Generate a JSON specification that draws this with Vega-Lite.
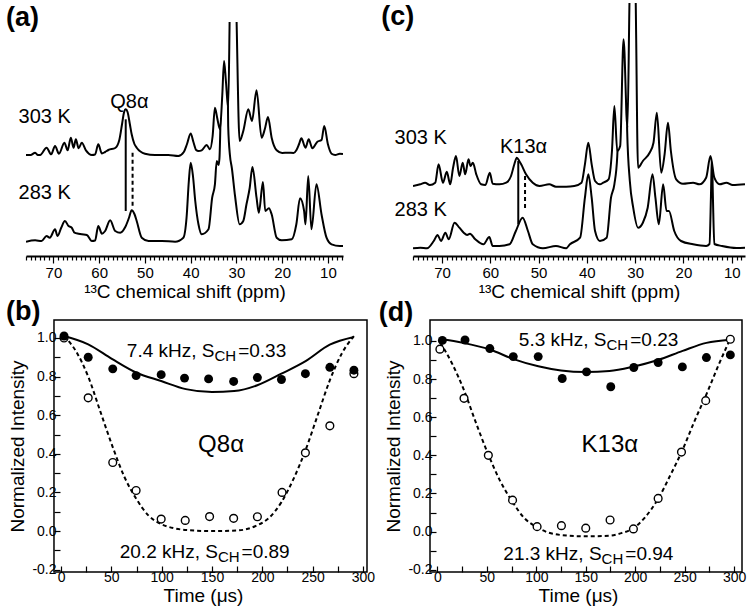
{
  "$schema": "https://vega.github.io/schema/vega-lite/v6.json",
  "background": "white",
  "padding": {"left": 5, "top": 2, "right": 0, "bottom": 0},
  "config": {
    "font": "Liberation Sans",
    "view": {"stroke": null},
    "axis": {"labelFont": "Liberation Sans", "titleFont": "Liberation Sans", "labelColor": "black", "titleColor": "black", "domainColor": "black", "tickColor": "black", "grid": false, "titleFontWeight": "normal", "labelFlush": false, "labelOverlap": false},
    "title": {"font": "Liberation Sans", "fontSize": 27, "fontWeight": "bold", "anchor": "start", "frame": "group", "offset": 0, "baseline": "alphabetic", "color": "black"}
  },
  "datasets": {
    "a303": [{"ppm":76.0,"v":101},{"ppm":75.0,"v":101},{"ppm":74.0,"v":103.3},{"ppm":73.4,"v":101},{"ppm":72.9,"v":101},{"ppm":71.5,"v":108.3},{"ppm":70.5,"v":101.7},{"ppm":69.65,"v":110},{"ppm":68.8,"v":102.3},{"ppm":67.6,"v":113.3},{"ppm":66.9,"v":105.7},{"ppm":66.2,"v":118.3},{"ppm":65.6,"v":108.3},{"ppm":65.1,"v":116.7},{"ppm":64.5,"v":107.7},{"ppm":63.8,"v":113.3},{"ppm":62.9,"v":105.7},{"ppm":61.6,"v":101},{"ppm":60.9,"v":101.5},{"ppm":60.2,"v":111.7},{"ppm":59.4,"v":102.5},{"ppm":58.7,"v":104},{"ppm":58.0,"v":106},{"ppm":56.5,"v":108},{"ppm":55.6,"v":116},{"ppm":55.0,"v":132},{"ppm":54.6,"v":143},{"ppm":54.2,"v":146.7},{"ppm":53.8,"v":144},{"ppm":53.3,"v":132},{"ppm":52.9,"v":121.7},{"ppm":52.3,"v":112},{"ppm":51.8,"v":108.3},{"ppm":50.0,"v":102.3},{"ppm":47.8,"v":101},{"ppm":44.9,"v":101},{"ppm":42.7,"v":100},{"ppm":41.5,"v":104},{"ppm":40.8,"v":112},{"ppm":40.0,"v":122.5},{"ppm":39.4,"v":114},{"ppm":38.8,"v":106},{"ppm":38.3,"v":105},{"ppm":37.6,"v":105.7},{"ppm":36.5,"v":111},{"ppm":35.8,"v":106.7},{"ppm":35.2,"v":120},{"ppm":34.7,"v":148.3},{"ppm":34.2,"v":138},{"ppm":33.6,"v":126.7},{"ppm":33.1,"v":160},{"ppm":32.7,"v":195},{"ppm":32.3,"v":175},{"ppm":31.8,"v":148.3},{"ppm":31.4,"v":260},{"ppm":30.8,"v":330},{"ppm":30.1,"v":260},{"ppm":29.3,"v":115},{"ppm":28.5,"v":125},{"ppm":27.4,"v":146.7},{"ppm":26.6,"v":135},{"ppm":25.6,"v":165.7},{"ppm":24.5,"v":118.3},{"ppm":23.8,"v":126.7},{"ppm":23.1,"v":139},{"ppm":22.3,"v":118.3},{"ppm":21.2,"v":105.7},{"ppm":20.0,"v":103},{"ppm":18.7,"v":103.3},{"ppm":17.5,"v":103},{"ppm":16.9,"v":105.7},{"ppm":16.3,"v":112},{"ppm":15.8,"v":117.7},{"ppm":14.9,"v":108.3},{"ppm":14.2,"v":116.7},{"ppm":13.4,"v":107.7},{"ppm":12.3,"v":114.3},{"ppm":11.4,"v":116},{"ppm":10.8,"v":130},{"ppm":10.0,"v":111.7},{"ppm":9.2,"v":102.3},{"ppm":8.4,"v":101},{"ppm":7.4,"v":102.3},{"ppm":6.7,"v":102}],
    "a283": [{"ppm":76.0,"v":14.3},{"ppm":74.0,"v":15.7},{"ppm":72.6,"v":15},{"ppm":71.5,"v":20},{"ppm":70.8,"v":18.3},{"ppm":69.65,"v":26.7},{"ppm":69.1,"v":20},{"ppm":68.3,"v":28.3},{"ppm":67.5,"v":35},{"ppm":66.7,"v":30},{"ppm":66.0,"v":28.3},{"ppm":65.4,"v":23.3},{"ppm":64.5,"v":22.3},{"ppm":63.8,"v":21.7},{"ppm":62.7,"v":21},{"ppm":61.6,"v":15},{"ppm":60.9,"v":15.5},{"ppm":60.2,"v":30},{"ppm":59.4,"v":22.3},{"ppm":58.7,"v":25},{"ppm":57.6,"v":35.7},{"ppm":56.5,"v":25},{"ppm":55.4,"v":23.3},{"ppm":54.3,"v":29},{"ppm":53.5,"v":38},{"ppm":52.9,"v":45.7},{"ppm":52.3,"v":42},{"ppm":51.8,"v":35},{"ppm":50.7,"v":18.3},{"ppm":49.2,"v":15},{"ppm":46.3,"v":15},{"ppm":43.4,"v":14.3},{"ppm":41.6,"v":18.3},{"ppm":40.9,"v":38.3},{"ppm":40.4,"v":75},{"ppm":40.0,"v":93.3},{"ppm":39.5,"v":80},{"ppm":39.0,"v":55},{"ppm":38.3,"v":31.7},{"ppm":37.6,"v":21.7},{"ppm":36.1,"v":26.7},{"ppm":35.3,"v":58.3},{"ppm":34.7,"v":71.7},{"ppm":34.3,"v":95},{"ppm":33.9,"v":91},{"ppm":33.7,"v":98.3},{"ppm":33.4,"v":150},{"ppm":32.7,"v":220},{"ppm":32.1,"v":200},{"ppm":31.85,"v":150},{"ppm":31.8,"v":130},{"ppm":31.4,"v":100},{"ppm":31.0,"v":88},{"ppm":30.3,"v":60},{"ppm":29.3,"v":31.7},{"ppm":28.5,"v":35},{"ppm":27.8,"v":51.7},{"ppm":27.1,"v":68},{"ppm":26.5,"v":89},{"ppm":25.6,"v":58.3},{"ppm":25.1,"v":43.3},{"ppm":24.2,"v":74},{"ppm":23.7,"v":45},{"ppm":22.9,"v":47.7},{"ppm":22.3,"v":41.7},{"ppm":21.2,"v":18.3},{"ppm":20.1,"v":15.7},{"ppm":17.9,"v":16.7},{"ppm":16.9,"v":31.7},{"ppm":16.1,"v":57.7},{"ppm":15.2,"v":45},{"ppm":14.9,"v":31.7},{"ppm":14.3,"v":80},{"ppm":13.6,"v":26.7},{"ppm":12.5,"v":71.7},{"ppm":11.4,"v":41.7},{"ppm":10.3,"v":18.3},{"ppm":9.2,"v":11.7},{"ppm":7.4,"v":10},{"ppm":6.7,"v":10}],
    "c303": [{"ppm":76.0,"v":70},{"ppm":74.5,"v":71.7},{"ppm":73.5,"v":73.3},{"ppm":72.5,"v":71},{"ppm":71.4,"v":73.3},{"ppm":70.7,"v":91.7},{"ppm":69.8,"v":73.3},{"ppm":69.0,"v":84.3},{"ppm":68.3,"v":71.7},{"ppm":67.7,"v":88.3},{"ppm":67.1,"v":100},{"ppm":66.4,"v":80},{"ppm":65.7,"v":93.3},{"ppm":65.2,"v":81.7},{"ppm":64.5,"v":96.7},{"ppm":64.1,"v":90},{"ppm":63.6,"v":93.3},{"ppm":62.9,"v":81.7},{"ppm":61.9,"v":71.7},{"ppm":61.0,"v":71},{"ppm":60.1,"v":83.3},{"ppm":59.5,"v":72.3},{"ppm":58.1,"v":71.7},{"ppm":56.7,"v":73.3},{"ppm":55.7,"v":80},{"ppm":55.0,"v":92},{"ppm":54.5,"v":98.3},{"ppm":54.0,"v":95},{"ppm":53.6,"v":91.7},{"ppm":52.6,"v":81.7},{"ppm":51.2,"v":73.3},{"ppm":49.8,"v":70},{"ppm":47.8,"v":71.7},{"ppm":46.4,"v":69.3},{"ppm":44.3,"v":69.3},{"ppm":42.6,"v":70},{"ppm":41.1,"v":73.3},{"ppm":40.4,"v":91.7},{"ppm":39.7,"v":113.3},{"ppm":39.0,"v":91.7},{"ppm":38.3,"v":75},{"ppm":37.3,"v":71.7},{"ppm":36.6,"v":73.3},{"ppm":35.5,"v":76.7},{"ppm":34.8,"v":105},{"ppm":34.3,"v":150},{"ppm":33.7,"v":105},{"ppm":33.1,"v":110},{"ppm":32.4,"v":216.7},{"ppm":31.6,"v":128.3},{"ppm":31.15,"v":260},{"ppm":30.5,"v":360},{"ppm":29.9,"v":260},{"ppm":29.4,"v":88.3},{"ppm":28.4,"v":95},{"ppm":27.0,"v":103.3},{"ppm":26.2,"v":113.3},{"ppm":25.5,"v":143.3},{"ppm":24.6,"v":83.3},{"ppm":23.9,"v":101.7},{"ppm":23.2,"v":133.3},{"ppm":22.6,"v":105},{"ppm":21.5,"v":76.7},{"ppm":20.1,"v":72.3},{"ppm":18.0,"v":73.3},{"ppm":16.7,"v":71.7},{"ppm":15.3,"v":78.3},{"ppm":14.4,"v":100},{"ppm":13.6,"v":78.3},{"ppm":12.5,"v":71.7},{"ppm":11.1,"v":73.3},{"ppm":9.8,"v":71},{"ppm":7.25,"v":71.7}],
    "c283": [{"ppm":76.0,"v":7.7},{"ppm":74.5,"v":8.3},{"ppm":73.1,"v":7.7},{"ppm":71.7,"v":15},{"ppm":70.9,"v":21},{"ppm":70.2,"v":15},{"ppm":69.3,"v":23.3},{"ppm":68.6,"v":16.7},{"ppm":67.4,"v":33.3},{"ppm":66.4,"v":28.3},{"ppm":65.5,"v":23.3},{"ppm":64.8,"v":21},{"ppm":64.2,"v":22.3},{"ppm":63.1,"v":16.7},{"ppm":61.4,"v":11.7},{"ppm":60.2,"v":19},{"ppm":59.5,"v":10},{"ppm":58.1,"v":10},{"ppm":56.0,"v":11.7},{"ppm":54.7,"v":25},{"ppm":53.3,"v":38.3},{"ppm":52.2,"v":25},{"ppm":51.2,"v":11.7},{"ppm":49.1,"v":7.7},{"ppm":46.4,"v":10},{"ppm":44.3,"v":7.7},{"ppm":43.5,"v":11.7},{"ppm":41.4,"v":18.3},{"ppm":40.4,"v":58.3},{"ppm":39.7,"v":81.7},{"ppm":39.0,"v":58.3},{"ppm":38.3,"v":25},{"ppm":37.3,"v":15},{"ppm":35.9,"v":18.3},{"ppm":35.0,"v":58.3},{"ppm":34.3,"v":71.7},{"ppm":33.7,"v":100},{"ppm":33.3,"v":150},{"ppm":32.4,"v":240},{"ppm":31.9,"v":200},{"ppm":31.65,"v":125},{"ppm":31.1,"v":75},{"ppm":30.4,"v":48.3},{"ppm":29.4,"v":28.3},{"ppm":28.4,"v":33.3},{"ppm":27.4,"v":48.3},{"ppm":26.4,"v":81.7},{"ppm":25.8,"v":58.3},{"ppm":25.1,"v":31.7},{"ppm":24.2,"v":71.7},{"ppm":23.5,"v":45},{"ppm":23.0,"v":45},{"ppm":21.9,"v":25},{"ppm":20.5,"v":15},{"ppm":18.0,"v":11.7},{"ppm":15.3,"v":10},{"ppm":14.6,"v":12},{"ppm":14.3,"v":60},{"ppm":14.1,"v":100},{"ppm":13.9,"v":60},{"ppm":13.6,"v":12},{"ppm":12.0,"v":10},{"ppm":9.0,"v":8},{"ppm":7.25,"v":8.3}],
    "bFill": [{"x":3,"y":1.01},{"x":27,"y":0.9},{"x":51.4,"y":0.84},{"x":74.6,"y":0.805},{"x":99.5,"y":0.81},{"x":122.7,"y":0.792},{"x":146.6,"y":0.788},{"x":171.5,"y":0.775},{"x":195.1,"y":0.795},{"x":219,"y":0.785},{"x":242.8,"y":0.815},{"x":267.1,"y":0.848},{"x":291,"y":0.833}],
    "bOpen": [{"x":3,"y":1.0},{"x":27,"y":0.69},{"x":51.4,"y":0.355},{"x":74.6,"y":0.21},{"x":99.5,"y":0.062},{"x":123.4,"y":0.055},{"x":147.6,"y":0.075},{"x":171.5,"y":0.066},{"x":195.1,"y":0.074},{"x":219.6,"y":0.2},{"x":242.8,"y":0.405},{"x":267.1,"y":0.545},{"x":291,"y":0.815}],
    "bSolid": [{"x":3,"y":1.01},{"x":27,"y":0.967},{"x":51,"y":0.89},{"x":75,"y":0.82},{"x":99.5,"y":0.777},{"x":124,"y":0.735},{"x":150,"y":0.72},{"x":172,"y":0.725},{"x":195,"y":0.755},{"x":219,"y":0.815},{"x":243,"y":0.88},{"x":267,"y":0.965},{"x":291,"y":1.005}],
    "bDash": [{"x":3,"y":1.01},{"x":15,"y":0.93},{"x":27,"y":0.8},{"x":39,"y":0.62},{"x":51,"y":0.44},{"x":63,"y":0.28},{"x":75,"y":0.165},{"x":87,"y":0.08},{"x":100,"y":0.035},{"x":112,"y":0.015},{"x":125,"y":0.005},{"x":150,"y":0.0},{"x":175,"y":0.003},{"x":195,"y":0.03},{"x":207,"y":0.07},{"x":219,"y":0.15},{"x":231,"y":0.27},{"x":243,"y":0.42},{"x":255,"y":0.6},{"x":267,"y":0.78},{"x":279,"y":0.92},{"x":291,"y":1.01}],
    "dFill": [{"x":5,"y":1.003},{"x":27.9,"y":1.005},{"x":53,"y":0.96},{"x":76.7,"y":0.918},{"x":101.9,"y":0.918},{"x":126.2,"y":0.803},{"x":150.8,"y":0.838},{"x":175.3,"y":0.76},{"x":198.6,"y":0.861},{"x":223.2,"y":0.887},{"x":247.7,"y":0.864},{"x":272,"y":0.913},{"x":296.2,"y":0.927}],
    "dOpen": [{"x":2.5,"y":0.957},{"x":26.9,"y":0.699},{"x":51.5,"y":0.4},{"x":76,"y":0.165},{"x":100.8,"y":0.026},{"x":125.4,"y":0.031},{"x":150,"y":0.018},{"x":174.6,"y":0.061},{"x":198.2,"y":0.014},{"x":223.2,"y":0.174},{"x":246.8,"y":0.417},{"x":271.3,"y":0.687},{"x":296.2,"y":1.009}],
    "dSolid": [{"x":3,"y":1.01},{"x":26,"y":0.99},{"x":53,"y":0.955},{"x":77,"y":0.905},{"x":102,"y":0.867},{"x":125,"y":0.845},{"x":150,"y":0.837},{"x":174,"y":0.842},{"x":198,"y":0.865},{"x":223,"y":0.9},{"x":248,"y":0.948},{"x":272,"y":0.99},{"x":296,"y":1.007}],
    "dDash": [{"x":3,"y":0.99},{"x":15,"y":0.88},{"x":27,"y":0.74},{"x":39,"y":0.57},{"x":51,"y":0.41},{"x":63,"y":0.27},{"x":76,"y":0.155},{"x":88,"y":0.07},{"x":100,"y":0.025},{"x":112,"y":-0.005},{"x":125,"y":-0.018},{"x":150,"y":-0.025},{"x":174,"y":-0.022},{"x":186,"y":-0.008},{"x":198,"y":0.017},{"x":210,"y":0.075},{"x":223,"y":0.17},{"x":235,"y":0.29},{"x":248,"y":0.43},{"x":260,"y":0.58},{"x":272,"y":0.72},{"x":284,"y":0.87},{"x":296,"y":1.01}]
  },
  "spacing": -4,
  "vconcat": [
    {
      "spacing": 36,
      "hconcat": [
        {
          "width": 317, "height": 253,
          "view": {"stroke": "transparent"},
          "title": {"text": "(a)", "dx": -20, "dy": 33},
          "encoding": {
            "x": {"field": "ppm", "type": "quantitative", "scale": {"domain": [6.7, 76], "reverse": true, "nice": false, "zero": false},
              "axis": {"values": [7,8,9,10,11,12,13,14,15,16,17,18,19,20,21,22,23,24,25,26,27,28,29,30,31,32,33,34,35,36,37,38,39,40,41,42,43,44,45,46,47,48,49,50,51,52,53,54,55,56,57,58,59,60,61,62,63,64,65,66,67,68,69,70,71,72,73,74,75,76],
                "labelExpr": "datum.value % 10 === 0 ? datum.label : ''", "labelFontSize": 15, "labelPadding": 2,
                "tickSize": {"condition": {"test": "datum.value % 10 === 0", "value": 7}, "value": 4}, "tickWidth": 1.2, "domainWidth": 2,
                "title": "¹³C chemical shift (ppm)", "titleFontSize": 19, "titlePadding": 2}},
            "y": {"field": "v", "type": "quantitative", "scale": {"domain": [0, 253], "nice": false, "zero": false}, "axis": null}
          },
          "layer": [
            {"data": {"name": "a283"}, "mark": {"type": "line", "color": "black", "strokeWidth": 2, "interpolate": "monotone", "clip": true}},
            {"data": {"name": "a303"}, "mark": {"type": "area", "color": "white", "opacity": 1, "interpolate": "monotone", "clip": true}, "encoding": {"y2": {"datum": 253}}},
            {"data": {"name": "a303"}, "mark": {"type": "line", "color": "black", "strokeWidth": 2, "interpolate": "monotone", "clip": true}},
            {"data": {"values": [{"ppm": 76, "x2": 6.7, "v": 234, "v2": 253}]}, "mark": {"type": "rect", "color": "white", "opacity": 1}, "encoding": {"x2": {"field": "x2"}, "y2": {"field": "v2"}}},
            {"data": {"values": [{"ppm": 54.2, "v": 136.7, "v2": 45}]}, "mark": {"type": "rule", "color": "black", "strokeWidth": 2}, "encoding": {"y2": {"field": "v2"}}},
            {"data": {"values": [{"ppm": 52.7, "v": 103.3, "v2": 48.3}]}, "mark": {"type": "rule", "color": "black", "strokeWidth": 2, "strokeDash": [4, 3]}, "encoding": {"y2": {"field": "v2"}}},
            {"data": {"values": [{"ppm": 66.2, "v": 133, "s": "303 K"}, {"ppm": 66.2, "v": 57, "s": "283 K"}]}, "mark": {"type": "text", "fontSize": 20, "align": "right", "baseline": "alphabetic", "color": "black"}, "encoding": {"text": {"field": "s"}}},
            {"data": {"values": [{"ppm": 53.4, "v": 148, "s": "Q8α"}]}, "mark": {"type": "text", "fontSize": 20, "align": "center", "baseline": "alphabetic", "color": "black"}, "encoding": {"text": {"field": "s"}}}
          ]
        },
        {
          "width": 332, "height": 253,
          "view": {"stroke": "transparent"},
          "title": {"text": "(c)", "dx": -31.7, "dy": 32},
          "encoding": {
            "x": {"field": "ppm", "type": "quantitative", "scale": {"domain": [7.25, 76], "reverse": true, "nice": false, "zero": false},
              "axis": {"values": [8,9,10,11,12,13,14,15,16,17,18,19,20,21,22,23,24,25,26,27,28,29,30,31,32,33,34,35,36,37,38,39,40,41,42,43,44,45,46,47,48,49,50,51,52,53,54,55,56,57,58,59,60,61,62,63,64,65,66,67,68,69,70,71,72,73,74,75,76],
                "labelExpr": "datum.value % 10 === 0 ? datum.label : ''", "labelFontSize": 15, "labelPadding": 2,
                "tickSize": {"condition": {"test": "datum.value % 10 === 0", "value": 7}, "value": 4}, "tickWidth": 1.2, "domainWidth": 2,
                "title": "¹³C chemical shift (ppm)", "titleFontSize": 19, "titlePadding": 2}},
            "y": {"field": "v", "type": "quantitative", "scale": {"domain": [0, 253], "nice": false, "zero": false}, "axis": null}
          },
          "layer": [
            {"data": {"name": "c283"}, "mark": {"type": "line", "color": "black", "strokeWidth": 2, "interpolate": "monotone", "clip": true}},
            {"data": {"name": "c303"}, "mark": {"type": "area", "color": "white", "opacity": 1, "interpolate": "monotone", "clip": true}, "encoding": {"y2": {"datum": 253}}},
            {"data": {"name": "c303"}, "mark": {"type": "line", "color": "black", "strokeWidth": 2, "interpolate": "monotone", "clip": true}},
            {"data": {"values": [{"ppm": 54.2, "v": 95, "v2": 31.7}]}, "mark": {"type": "rule", "color": "black", "strokeWidth": 2}, "encoding": {"y2": {"field": "v2"}}},
            {"data": {"values": [{"ppm": 52.8, "v": 80, "v2": 45}]}, "mark": {"type": "rule", "color": "black", "strokeWidth": 2, "strokeDash": [4, 3]}, "encoding": {"y2": {"field": "v2"}}},
            {"data": {"values": [{"ppm": 69.0, "v": 112, "s": "303 K"}, {"ppm": 69.0, "v": 40, "s": "283 K"}]}, "mark": {"type": "text", "fontSize": 20, "align": "right", "baseline": "alphabetic", "color": "black"}, "encoding": {"text": {"field": "s"}}},
            {"data": {"values": [{"ppm": 53.1, "v": 103.3, "s": "K13α"}]}, "mark": {"type": "text", "fontSize": 20, "align": "center", "baseline": "alphabetic", "color": "black"}, "encoding": {"text": {"field": "s"}}}
          ]
        }
      ]
    },
    {
      "spacing": 2,
      "hconcat": [
        {
          "width": 341, "height": 252,
          "title": {"text": "(b)", "dx": -20, "dy": 11},
          "encoding": {
            "x": {"field": "x", "type": "quantitative", "scale": {"domain": [-34.8, 304], "nice": false, "zero": false},
              "axis": {"values": [0,25,50,75,100,125,150,175,200,225,250,275,300], "labelExpr": "datum.value % 50 === 0 ? datum.label : ''", "labelFontSize": 14, "tickSize": -6, "tickWidth": 1.2, "labelPadding": 4, "domain": false, "title": "Time (μs)", "titleFontSize": 19, "titlePadding": 2, "titleX": 177}},
            "y": {"field": "y", "type": "quantitative", "scale": {"domain": [-0.212, 1.093], "nice": false, "zero": false},
              "axis": {"offset": -28, "values": [-0.2,-0.1,0,0.1,0.2,0.3,0.4,0.5,0.6,0.7,0.8,0.9,1.0], "labelExpr": "round(datum.value*10) % 2 === 0 ? (datum.value < 0 ? '-' : '') + format(abs(datum.value), '.1f') : ''", "labelFontSize": 14, "tickSize": -6, "tickWidth": 1.2, "labelPadding": 4, "domain": false, "title": "Normalized Intensity", "titleFontSize": 19, "titlePadding": 4}}
          },
          "layer": [
            {"data": {"values": [{"x": -7, "x2": 304, "y": -0.212, "y2": 1.093}]}, "mark": {"type": "rect", "filled": false, "color": "black", "strokeWidth": 1.5}, "encoding": {"x2": {"field": "x2"}, "y2": {"field": "y2"}}},
            {"data": {"name": "bSolid"}, "mark": {"type": "line", "color": "black", "strokeWidth": 2, "interpolate": "monotone"}},
            {"data": {"name": "bDash"}, "mark": {"type": "line", "color": "black", "strokeWidth": 2, "strokeDash": [4, 3], "interpolate": "monotone"}},
            {"data": {"name": "bOpen"}, "mark": {"type": "circle", "size": 60, "fill": "white", "stroke": "black", "strokeWidth": 1.4, "opacity": 1}},
            {"data": {"name": "bFill"}, "mark": {"type": "circle", "size": 80, "color": "black", "opacity": 1}},
            {"data": {"values": [{"x": 152.5, "y": 0.903, "s": "7.4 kHz, S"}, {"x": 155.9, "y": -0.141, "s": "20.2 kHz, S"}]}, "mark": {"type": "text", "fontSize": 19, "align": "right", "baseline": "alphabetic", "color": "black"}, "encoding": {"text": {"field": "s"}}},
            {"data": {"values": [{"x": 152.5, "y": 0.883, "s": "CH"}, {"x": 155.9, "y": -0.161, "s": "CH"}]}, "mark": {"type": "text", "fontSize": 15, "align": "left", "baseline": "alphabetic", "color": "black"}, "encoding": {"text": {"field": "s"}}},
            {"data": {"values": [{"x": 176, "y": 0.903, "s": "=0.33"}, {"x": 179.4, "y": -0.141, "s": "=0.89"}]}, "mark": {"type": "text", "fontSize": 19, "align": "left", "baseline": "alphabetic", "color": "black"}, "encoding": {"text": {"field": "s"}}},
            {"data": {"values": [{"x": 159, "y": 0.41, "s": "Q8α"}]}, "mark": {"type": "text", "fontSize": 24, "align": "center", "baseline": "alphabetic", "color": "black"}, "encoding": {"text": {"field": "s"}}}
          ]
        },
        {
          "width": 312, "height": 252,
          "view": {"stroke": "black", "strokeWidth": 1.5},
          "title": {"text": "(d)", "dx": -51.3, "dy": 11},
          "encoding": {
            "x": {"field": "x", "type": "quantitative", "scale": {"domain": [-7.5, 308], "nice": false, "zero": false},
              "axis": {"values": [0,25,50,75,100,125,150,175,200,225,250,275,300], "labelExpr": "datum.value % 50 === 0 ? datum.label : ''", "labelFontSize": 14, "tickSize": -6, "tickWidth": 1.2, "labelPadding": 4, "domain": false, "title": "Time (μs)", "titleFontSize": 19, "titlePadding": 2, "titleX": 148}},
            "y": {"field": "y", "type": "quantitative", "scale": {"domain": [-0.212, 1.11], "nice": false, "zero": false},
              "axis": {"values": [-0.2,-0.1,0,0.1,0.2,0.3,0.4,0.5,0.6,0.7,0.8,0.9,1.0], "labelExpr": "round(datum.value*10) % 2 === 0 ? (datum.value < 0 ? '-' : '') + format(abs(datum.value), '.1f') : ''", "labelFontSize": 14, "tickSize": -6, "tickWidth": 1.2, "labelPadding": 4, "domain": false, "title": "Normalized Intensity", "titleFontSize": 19, "titlePadding": 4}}
          },
          "layer": [
            {"data": {"name": "dSolid"}, "mark": {"type": "line", "color": "black", "strokeWidth": 2, "interpolate": "monotone"}},
            {"data": {"name": "dDash"}, "mark": {"type": "line", "color": "black", "strokeWidth": 2, "strokeDash": [4, 3], "interpolate": "monotone"}},
            {"data": {"name": "dOpen"}, "mark": {"type": "circle", "size": 60, "fill": "white", "stroke": "black", "strokeWidth": 1.4, "opacity": 1}},
            {"data": {"name": "dFill"}, "mark": {"type": "circle", "size": 80, "color": "black", "opacity": 1}},
            {"data": {"values": [{"x": 171, "y": 0.974, "s": "5.3 kHz, S"}, {"x": 166, "y": -0.148, "s": "21.3 kHz, S"}]}, "mark": {"type": "text", "fontSize": 19, "align": "right", "baseline": "alphabetic", "color": "black"}, "encoding": {"text": {"field": "s"}}},
            {"data": {"values": [{"x": 171, "y": 0.954, "s": "CH"}, {"x": 166, "y": -0.168, "s": "CH"}]}, "mark": {"type": "text", "fontSize": 15, "align": "left", "baseline": "alphabetic", "color": "black"}, "encoding": {"text": {"field": "s"}}},
            {"data": {"values": [{"x": 195, "y": 0.974, "s": "=0.23"}, {"x": 190, "y": -0.148, "s": "=0.94"}]}, "mark": {"type": "text", "fontSize": 19, "align": "left", "baseline": "alphabetic", "color": "black"}, "encoding": {"text": {"field": "s"}}},
            {"data": {"values": [{"x": 174.4, "y": 0.417, "s": "K13α"}]}, "mark": {"type": "text", "fontSize": 24, "align": "center", "baseline": "alphabetic", "color": "black"}, "encoding": {"text": {"field": "s"}}}
          ]
        }
      ]
    }
  ]
}
